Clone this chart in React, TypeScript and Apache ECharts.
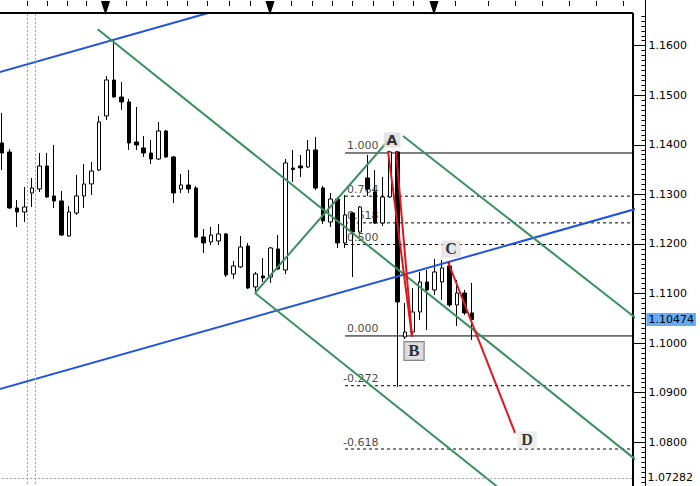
import React, { useEffect, useRef } from "react";
import * as echarts from "echarts";

// ---------- data ----------
const barIndex = Array.from({ length: 85 }, (_, i) => String(i));

const opens = [
  1.14037, 1.13856, 1.12726, 1.12645, 1.13028, 1.13109, 1.13573, 1.12968, 1.12867, 1.12161,
  1.12625, 1.12968, 1.1321, 1.13492, 1.14582, 1.15308, 1.14965, 1.14864, 1.14057, 1.13936,
  1.13835, 1.13714, 1.14279, 1.13755, 1.13109, 1.1319, 1.13129, 1.12141, 1.1204, 1.1206,
  1.12201, 1.11394, 1.11536, 1.11959, 1.11132, 1.11354, 1.11334, 1.11899, 1.11475, 1.13533,
  1.13573, 1.13553, 1.13896, 1.13129, 1.12443, 1.12907, 1.1202, 1.12625, 1.12242, 1.13331,
  1.13049, 1.12423, 1.12948, 1.13856, 1.10123, 1.10224, 1.10628, 1.11233, 1.11072, 1.11233,
  1.11556, 1.10769, 1.11011, 1.10608,
];
const closes = [
  1.13835, 1.12726, 1.12645, 1.12746, 1.13129, 1.13573, 1.12948, 1.12867, 1.12181, 1.12645,
  1.12968, 1.1321, 1.13472, 1.14461, 1.15308, 1.14965, 1.14864, 1.14037, 1.13997, 1.13835,
  1.13714, 1.14279, 1.13755, 1.13028, 1.1319, 1.13109, 1.12141, 1.1202, 1.12181, 1.12201,
  1.11374, 1.11556, 1.11939, 1.11112, 1.11394, 1.11314, 1.11919, 1.11495, 1.13634, 1.13503,
  1.13533, 1.13896, 1.13129, 1.12464, 1.12907, 1.1202, 1.12585, 1.12242, 1.12746, 1.13109,
  1.12423, 1.12948, 1.13856, 1.1083, 1.10224, 1.10628, 1.11233, 1.11072, 1.11435, 1.11515,
  1.10769, 1.11011, 1.10608, 1.10474,
];
const lows = [
  1.13492, 1.12706, 1.12343, 1.12443, 1.12746, 1.13049, 1.12928, 1.12726, 1.12161, 1.12141,
  1.12585, 1.12726, 1.12988, 1.13472, 1.14501, 1.14945, 1.14703, 1.13896, 1.13896, 1.13755,
  1.13613, 1.13694, 1.13735, 1.12827, 1.13028, 1.13028, 1.12121, 1.11818, 1.11979, 1.11979,
  1.11334, 1.11293, 1.11515, 1.11092, 1.11011, 1.11233, 1.11213, 1.11475, 1.11394, 1.1325,
  1.13351, 1.13533, 1.13089, 1.12403, 1.12343, 1.11919, 1.11919, 1.11334, 1.12222, 1.12968,
  1.12403, 1.12363, 1.12928, 1.09115, 1.10083, 1.10164, 1.10466, 1.10265, 1.10971, 1.1087,
  1.10729, 1.10345, 1.10567, 1.10063,
];
const highs = [
  1.14642, 1.13916, 1.12887, 1.13149, 1.13331, 1.13835, 1.13835, 1.13997, 1.13069, 1.12766,
  1.13392, 1.13613, 1.13654, 1.14582, 1.15389, 1.16135, 1.15268, 1.14925, 1.14763, 1.14178,
  1.14098, 1.14461, 1.14299, 1.13775, 1.13412, 1.13492, 1.1317, 1.12302, 1.12343, 1.12403,
  1.12222, 1.11657, 1.12161, 1.1202, 1.11435, 1.11717, 1.11939, 1.12181, 1.13714, 1.13896,
  1.13795, 1.14098, 1.14158, 1.1317, 1.13028, 1.12948, 1.12988, 1.12645, 1.12766, 1.13795,
  1.13492, 1.13351, 1.13876, 1.13876, 1.10809, 1.11112, 1.11435, 1.11475, 1.11697, 1.11677,
  1.11636, 1.11273, 1.11072, 1.11213,
];

const lastPrice = 1.10474;
const lowMarkerPrice = 1.07282;

const fibHigh = 1.13835;
const fibLow = 1.10144;
const fibRatios = [1, 0.764, 0.618, 0.5, 0, -0.272, -0.618];
const fibStartBar = 45.98;
const fibEndBar = 86;
const fibLabelBar = 50.54;

const blueLines = [
  [[-1, 1.15438], [30, 1.16759]],
  [[-1, 1.09043], [86, 1.12751]],
];
const greenLines = [
  [[12.83, 1.16331], [86, 1.07521]],
  [[33.91, 1.11011], [70, 1.06667]],
  [[53.75, 1.14178], [86, 1.10382]],
  [[33.91, 1.11011], [51.74, 1.14077]],
];
const redLines = [
  [[51.74, 1.13876], [54.96, 1.10129]],
  [[52.82, 1.13876], [54.96, 1.10129]],
  [[59.79, 1.11636], [68.77, 1.08187]],
];
const waveNames = ["A", "B", "C", "D"];
const wavePoints = [
  [52.28, 1.14098],
  [55.23, 1.09841],
  [60.19, 1.11899],
  [70.38, 1.08046],
];
const separatorBars = [3.39, 4.42];

// ---------- styling ----------
const BLUE = "#2153dc";
const GREEN = "#3a9160";
const RED = "#e3141b";
const FONT = "DejaVu Sans";

const topTicksX = [27, 47, 67, 86, 126, 146, 167, 187, 207, 229, 250, 291, 312, 332, 352, 373, 393, 413, 455, 488, 515, 542, 569, 596, 623];
const topMarkersX = [105.5, 270, 434];

function segment(pts: number[][], color: string, width: number, z: number, extra: any = {}) {
  return {
    type: "line",
    xAxisIndex: 1,
    yAxisIndex: 0,
    data: pts,
    symbol: "none",
    silent: true,
    clip: true,
    lineStyle: { color, width, type: "solid" },
    z,
    ...extra,
  };
}

function buildOption() {
  const candles = opens.map((o, i) => [o, closes[i], lows[i], highs[i]]);
  const fibPrice = (r: number) => fibLow + (fibHigh - fibLow) * r;

  const series: any[] = [];

  // fib levels (under candles)
  fibRatios.forEach((r) => {
    const solid = r === 1 || r === 0;
    series.push({
      type: "line",
      xAxisIndex: 1,
      yAxisIndex: 0,
      data: [
        [fibStartBar, fibPrice(r)],
        [fibEndBar, fibPrice(r)],
      ],
      symbol: "none",
      silent: true,
      clip: true,
      lineStyle: { color: "#000", width: 1, type: solid ? "solid" : [3, 3] },
      z: 1,
    });
  });
  series.push({
    type: "scatter",
    xAxisIndex: 1,
    yAxisIndex: 0,
    symbolSize: 1,
    silent: true,
    itemStyle: { color: "transparent" },
    z: 1,
    data: fibRatios.map((r) => ({ name: r.toFixed(3), value: [fibLabelBar, fibPrice(r)] })),
    label: {
      show: true,
      position: "left",
      distance: 0,
      offset: [0, -7],
      formatter: "{b}",
      color: "#111",
      fontSize: 11,
      fontFamily: FONT,
    },
  });

  // candles
  series.push({
    type: "candlestick",
    xAxisIndex: 0,
    yAxisIndex: 0,
    data: candles,
    barWidth: 4,
    silent: true,
    z: 2,
    itemStyle: {
      color: "#fff",
      color0: "#000",
      borderColor: "#000",
      borderColor0: "#000",
      borderWidth: 1,
    },
  });

  // separators + horizontal price markers
  series.push(
    segment([], "#9a9a9a", 1, 1, {
      markLine: {
        silent: true,
        symbol: ["none", "none"],
        animation: false,
        precision: 5,
        label: { show: false },
        lineStyle: { color: "#9a9a9a", type: [2, 2], width: 1 },
        data: [
          ...separatorBars.map((b) => ({ xAxis: b })),
          {
            yAxis: lowMarkerPrice,
            lineStyle: { color: "#9a9a9a", type: [2, 2], width: 1 },
            label: {
              show: true,
              position: "end",
              distance: 15,
              formatter: lowMarkerPrice.toFixed(5),
              color: "#000",
              fontSize: 11,
              fontFamily: FONT,
            },
          },
        ],
      },
    })
  );
  series.push(
    segment([], "#000", 1, 8, {
      markLine: {
        silent: true,
        symbol: ["none", "none"],
        animation: false,
        precision: 5,
        lineStyle: { color: "rgba(0,0,0,0)", width: 0 },
        data: [
          {
            yAxis: lastPrice,
            label: {
              show: true,
              position: "end",
              distance: 14,
              formatter: lastPrice.toFixed(5),
              color: "#000",
              fontSize: 11,
              fontFamily: FONT,
              backgroundColor: "#64aaf5",
              padding: [1, 2, 1, 2],
            },
          },
        ],
      },
    })
  );

  blueLines.forEach((l) => series.push(segment(l, BLUE, 2, 3)));
  greenLines.forEach((l) => series.push(segment(l, GREEN, 2, 3)));
  redLines.forEach((l) => series.push(segment(l, RED, 2, 4)));

  const waveLabelStyle: Record<string, any> = {
    A: { fontFamily: FONT, fontSize: 14, backgroundColor: "#dcdcdc", padding: [1, 3, 0, 3] },
    B: {
      fontFamily: "Liberation Serif",
      fontSize: 17,
      backgroundColor: "#d6d6d6",
      borderColor: "#666",
      borderWidth: 1,
      padding: [1, 4, 0, 4],
    },
    C: { fontFamily: "Liberation Serif", fontSize: 16, backgroundColor: "#e2e2e2", padding: [1, 4, 0, 4] },
    D: { fontFamily: "Liberation Serif", fontSize: 16, backgroundColor: "#e8e8e8", padding: [1, 4, 0, 4] },
  };

  series.push({
    type: "scatter",
    xAxisIndex: 1,
    yAxisIndex: 0,
    symbolSize: 1,
    silent: true,
    itemStyle: { color: "transparent" },
    z: 6,
    data: waveNames.map((n, k) => ({
      name: n,
      value: wavePoints[k],
      label: {
        show: true,
        position: "inside",
        formatter: "{b}",
        color: "#000",
        fontWeight: "bold",
        ...waveLabelStyle[n],
      },
    })),
  });

  const graphic: any[] = [
    { type: "rect", shape: { x: 0, y: 0, width: 700, height: 13 }, style: { fill: "#fff" }, z: 100, silent: true },
    { type: "line", shape: { x1: 0, y1: 13, x2: 633, y2: 13 }, style: { stroke: "#000", lineWidth: 2 }, z: 101, silent: true },
    { type: "line", shape: { x1: 645.5, y1: 0, x2: 645.5, y2: 13 }, style: { stroke: "#000", lineWidth: 1 }, z: 101, silent: true },
    ...topTicksX.map((x) => ({
      type: "line",
      shape: { x1: x + 0.5, y1: 1, x2: x + 0.5, y2: 6 },
      style: { stroke: "#000", lineWidth: 1 },
      z: 101,
      silent: true,
    })),
    ...topMarkersX.map((x) => ({
      type: "polygon",
      shape: { points: [[x - 4.5, 1], [x + 4.5, 1], [x + 3, 6], [x, 15], [x - 3, 6]] },
      style: { fill: "#000" },
      z: 102,
      silent: true,
    })),
  ];

  return {
    animation: false,
    backgroundColor: "#fff",
    grid: {
      left: -1.73,
      top: -3.9,
      width: 634.13,
      height: 495.7,
      containLabel: false,
      outerBoundsMode: "none",
    },
    xAxis: [
      { type: "category", data: barIndex, boundaryGap: true, show: false },
      { type: "value", min: -0.5, max: 84.5, show: false },
    ],
    yAxis: [
      {
        type: "value",
        position: "right",
        min: 1.07,
        max: 1.17,
        interval: 0.01,
        axisLine: { show: true, onZero: false, lineStyle: { color: "#000", width: 2 } },
        axisTick: { show: false },
        axisLabel: { show: false },
        splitLine: { show: false },
      },
      {
        type: "value",
        position: "right",
        offset: 13,
        min: 1.07,
        max: 1.17,
        interval: 0.01,
        axisLine: { show: true, onZero: false, lineStyle: { color: "#000", width: 1 } },
        axisTick: { show: true, inside: true, length: 12, lineStyle: { color: "#000", width: 1 } },
        minorTick: { show: true, splitNumber: 10, length: 4, lineStyle: { color: "#000", width: 1 } },
        axisLabel: {
          show: true,
          margin: 3,
          color: "#000",
          fontSize: 11,
          fontFamily: FONT,
          showMinLabel: false,
          showMaxLabel: false,
          formatter: (v: number) => v.toFixed(4),
        },
        splitLine: { show: false },
        minorSplitLine: { show: false },
      },
    ],
    series,
    graphic,
  };
}

export default function App() {
  const ref = useRef<HTMLDivElement>(null);
  useEffect(() => {
    if (!ref.current) return;
    const chart = echarts.init(ref.current, null, { renderer: "svg" });
    chart.setOption(buildOption() as any);
    return () => chart.dispose();
  }, []);
  return (
    <div
      ref={ref}
      style={{ position: "fixed", left: 0, top: 0, width: 700, height: 486, background: "#fff" }}
    />
  );
}
